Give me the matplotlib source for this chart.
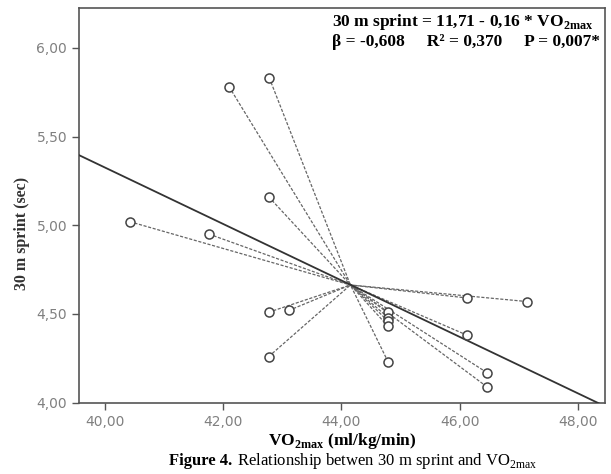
import numpy as np
import matplotlib
matplotlib.use("Agg")
import matplotlib.pyplot as plt

# data (VO2max in ml/kg/min, sprint in sec)
vo2max = [42.78, 42.10, 42.77, 40.42, 41.76, 42.77, 43.11, 42.77, 46.13,
          47.14, 46.13, 44.79, 46.46, 46.46, 44.79, 44.79, 44.79, 44.79]
sprint = [5.83, 5.78, 5.16, 5.02, 4.95, 4.51, 4.52, 4.26, 4.59,
          4.57, 4.38, 4.23, 4.17, 4.09, 4.51, 4.48, 4.46, 4.43]

intercept = 11.685
slope = -0.159

x_ticks = [40, 42, 44, 46, 48]
y_ticks = [4.0, 4.5, 5.0, 5.5, 6.0]

plt.rcParams['mathtext.fontset'] = 'custom'
plt.rcParams['mathtext.rm'] = 'Liberation Serif:bold'
plt.rcParams['mathtext.sf'] = 'Liberation Serif'

x = np.array(vo2max)
y = np.array(sprint)
cx, cy = x.mean(), y.mean()

fig = plt.figure(figsize=(6.11, 4.74), dpi=100)
ax = fig.add_axes([0.1293, 0.1504, 0.8609, 0.8327])

xmin, xmax = 39.56, 48.46
ax.set_xlim(xmin, xmax)
ax.set_ylim(4.0, 6.224)

# spikes to the centroid
for xi, yi in zip(x, y):
    ax.plot([xi, cx], [yi, cy], ls=(0, (2.5, 1.3)), color='#666666', lw=0.9, zorder=2)

# fit line
xl = np.array([xmin, xmax])
ax.plot(xl, intercept + slope * xl, color='#333333', lw=1.3, zorder=3)

ax.plot(x, y, 'o', mfc='white', mec='#444444', mew=1.1, ms=6.5, ls='none', zorder=4)

ax.set_xticks(x_ticks)
ax.set_xticklabels([f"{v:.2f}".replace('.', ',') for v in x_ticks])
ax.set_yticks(y_ticks)
ax.set_yticklabels([f"{v:.2f}".replace('.', ',') for v in y_ticks])
ax.tick_params(direction='out', length=5, width=1, color='#555555',
               labelcolor='#808080', labelsize=10)
for s in ax.spines.values():
    s.set_color('#555555')
    s.set_linewidth(1.2)

ax.set_xlabel(r"VO$_{\mathrm{2max}}$ (ml/kg/min)", family='Liberation Serif',
              fontweight='bold', fontsize=12.5, labelpad=2)
ax.set_ylabel("30 m sprint (sec)", family='Liberation Serif',
              fontweight='bold', fontsize=11.5, color='#333333')
ax.yaxis.set_label_coords(-0.093, 0.43)

ax.text(0.481, 0.99, r"30 m sprint = 11,71 - 0,16 * VO$_{\mathrm{2max}}$",
        transform=ax.transAxes, family='Liberation Serif', fontweight='bold',
        fontsize=12.5, va='top', ha='left')
ax.text(0.481, 0.935, "β = -0,608     R² = 0,370     P = 0,007*",
        transform=ax.transAxes, family='Liberation Serif', fontweight='bold',
        fontsize=12.5, va='top', ha='left')

# caption: bold part then regular part on the same baseline
cap_y = 0.018
t1 = fig.text(0.277, cap_y, "Figure 4.", family='Liberation Serif',
              fontweight='bold', fontsize=12, ha='left', va='baseline')
fig.canvas.draw()
bb = t1.get_window_extent().transformed(fig.transFigure.inverted())
fig.text(bb.x1 + 0.007, cap_y,
         r"Relationship betwen 30 m sprint and VO$_{\mathsf{2max}}$",
         family='Liberation Serif', fontsize=12, ha='left', va='baseline')

fig.savefig("out.png", dpi=100)
